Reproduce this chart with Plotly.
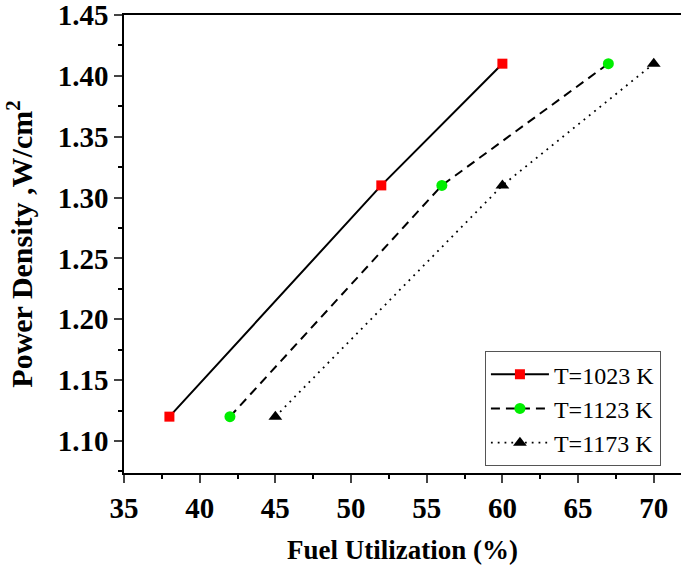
import plotly.graph_objects as go

fuel_1023 = [38, 52, 60]
pd_1023 = [1.12, 1.31, 1.41]
fuel_1123 = [42, 56, 67]
pd_1123 = [1.12, 1.31, 1.41]
fuel_1173 = [45, 60, 70]
pd_1173 = [1.12, 1.31, 1.41]
names = ["T=1023 K", "T=1123 K", "T=1173 K"]
x_ticks = [35, 40, 45, 50, 55, 60, 65, 70]
y_ticks = [1.10, 1.15, 1.20, 1.25, 1.30, 1.35, 1.40, 1.45]

FONT = "Liberation Serif"
fig = go.Figure()
fig.add_trace(go.Scatter(x=fuel_1023, y=pd_1023, name=names[0], mode="lines+markers",
                         line=dict(color="black", width=2, dash="solid"),
                         marker=dict(symbol="square", color="red", size=10)))
fig.add_trace(go.Scatter(x=fuel_1123, y=pd_1123, name=names[1], mode="lines+markers",
                         line=dict(color="black", width=2, dash="9px,6px"),
                         marker=dict(symbol="circle", color="#00ee00", size=11)))
fig.add_trace(go.Scatter(x=fuel_1173, y=pd_1173, name=names[2], mode="lines+markers",
                         line=dict(color="black", width=1.8, dash="1.8px,5px"),
                         marker=dict(symbol="triangle-up", color="black", size=12)))

fig.update_layout(
    width=681, height=569,
    margin=dict(l=124, r=0, t=15, b=96),
    paper_bgcolor="white", plot_bgcolor="white",
    font=dict(family=FONT, color="black"),
    showlegend=True,
    legend=dict(x=0.648, y=0.266, xanchor="left", yanchor="top",
                bordercolor="#555555", borderwidth=1, bgcolor="white",
                font=dict(family=FONT, size=24), tracegroupgap=0, itemwidth=58),
    xaxis=dict(range=[35, 71.8], tickvals=x_ticks, ticks="outside", ticklen=8, tickwidth=1.5,
               showline=True, linecolor="black", linewidth=1.5, mirror=True,
               showgrid=False, zeroline=False, ticklabeloverflow="allow",
               minor=dict(dtick=2.5, tick0=35, ticks="outside", ticklen=4, tickwidth=1.5, tickcolor="black"),
               tickfont=dict(family=FONT, size=29, weight="bold"),
               title=dict(text="Fuel Utilization (%)", font=dict(family=FONT, size=27, weight="bold"), standoff=18)),
    yaxis=dict(range=[1.0737, 1.45], tickvals=y_ticks, tickformat=".2f", ticks="outside", ticklen=8, tickwidth=1.5,
               showline=True, linecolor="black", linewidth=1.5, mirror=False,
               showgrid=False, zeroline=False, ticklabeloverflow="allow",
               minor=dict(dtick=0.025, tick0=1.10, ticks="outside", ticklen=4, tickwidth=1.5, tickcolor="black"),
               tickfont=dict(family=FONT, size=29, weight="bold"),
               title=dict(text="Power Density ,W/cm<sup>2</sup>", font=dict(family=FONT, size=30, weight="bold"), standoff=16)),
)
fig.write_html("out.html")
